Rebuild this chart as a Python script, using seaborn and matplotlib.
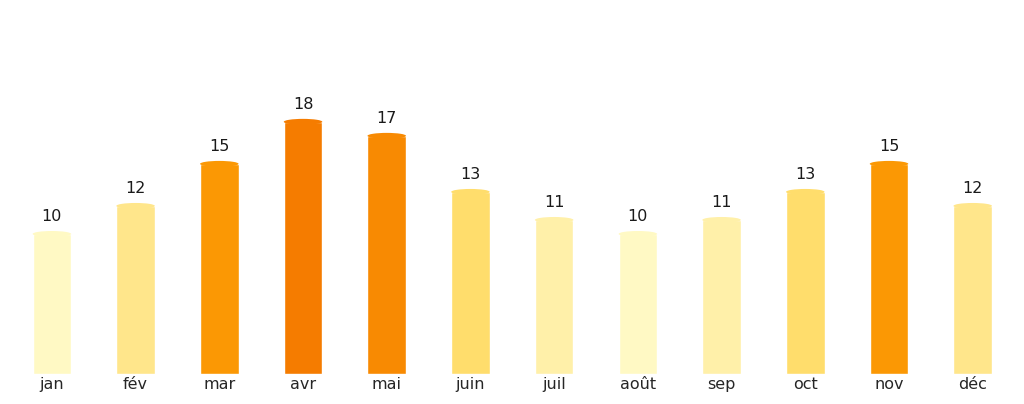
import matplotlib
matplotlib.use("Agg")
import matplotlib.pyplot as plt
from matplotlib.patches import Ellipse
import seaborn as sns
import pandas as pd

months = ["jan", "fév", "mar", "avr", "mai", "juin", "juil", "août", "sep", "oct", "nov", "déc"]
values = [10, 12, 15, 18, 17, 13, 11, 10, 11, 13, 15, 12]

# couleur selon la valeur
value_colors = {
    10: "#FFF9C4",
    11: "#FFF0A9",
    12: "#FFE68B",
    13: "#FFDD6C",
    15: "#FB9804",
    17: "#F88A02",
    18: "#F57C00",
}


def main():
    sns.set_style("white")
    df = pd.DataFrame({"mois": months, "valeur": values})
    palette = [value_colors[v] for v in values]

    fig = plt.figure(figsize=(10.24, 4.04), dpi=100)
    ax = fig.add_axes([0.0098, 0.074, 0.981, 0.85])
    sns.barplot(data=df, x="mois", y="valeur", hue="mois", palette=palette,
                legend=False, width=0.46, saturation=1, ax=ax)

    # petit arrondi en haut des barres + étiquettes
    for bar, v in zip(ax.patches, values):
        cx = bar.get_x() + bar.get_width() / 2
        cap = Ellipse((cx, bar.get_height()), bar.get_width(), 0.42,
                      color=bar.get_facecolor(), lw=0)
        ax.add_patch(cap)
        ax.text(cx, bar.get_height() + 0.7, str(v), ha="center", va="bottom",
                fontsize=11.5, color="#1a1a1a")

    ax.set_ylim(0, 24.5)
    ax.set_xlim(-0.5, len(months) - 0.5)
    ax.set_xlabel("")
    ax.set_ylabel("")
    ax.set_yticks([])
    ax.tick_params(axis="x", length=0, labelsize=11.5, labelcolor="#262626", pad=2)
    sns.despine(ax=ax, left=True, bottom=True)

    fig.savefig("out.png", dpi=100)


if __name__ == "__main__":
    main()
